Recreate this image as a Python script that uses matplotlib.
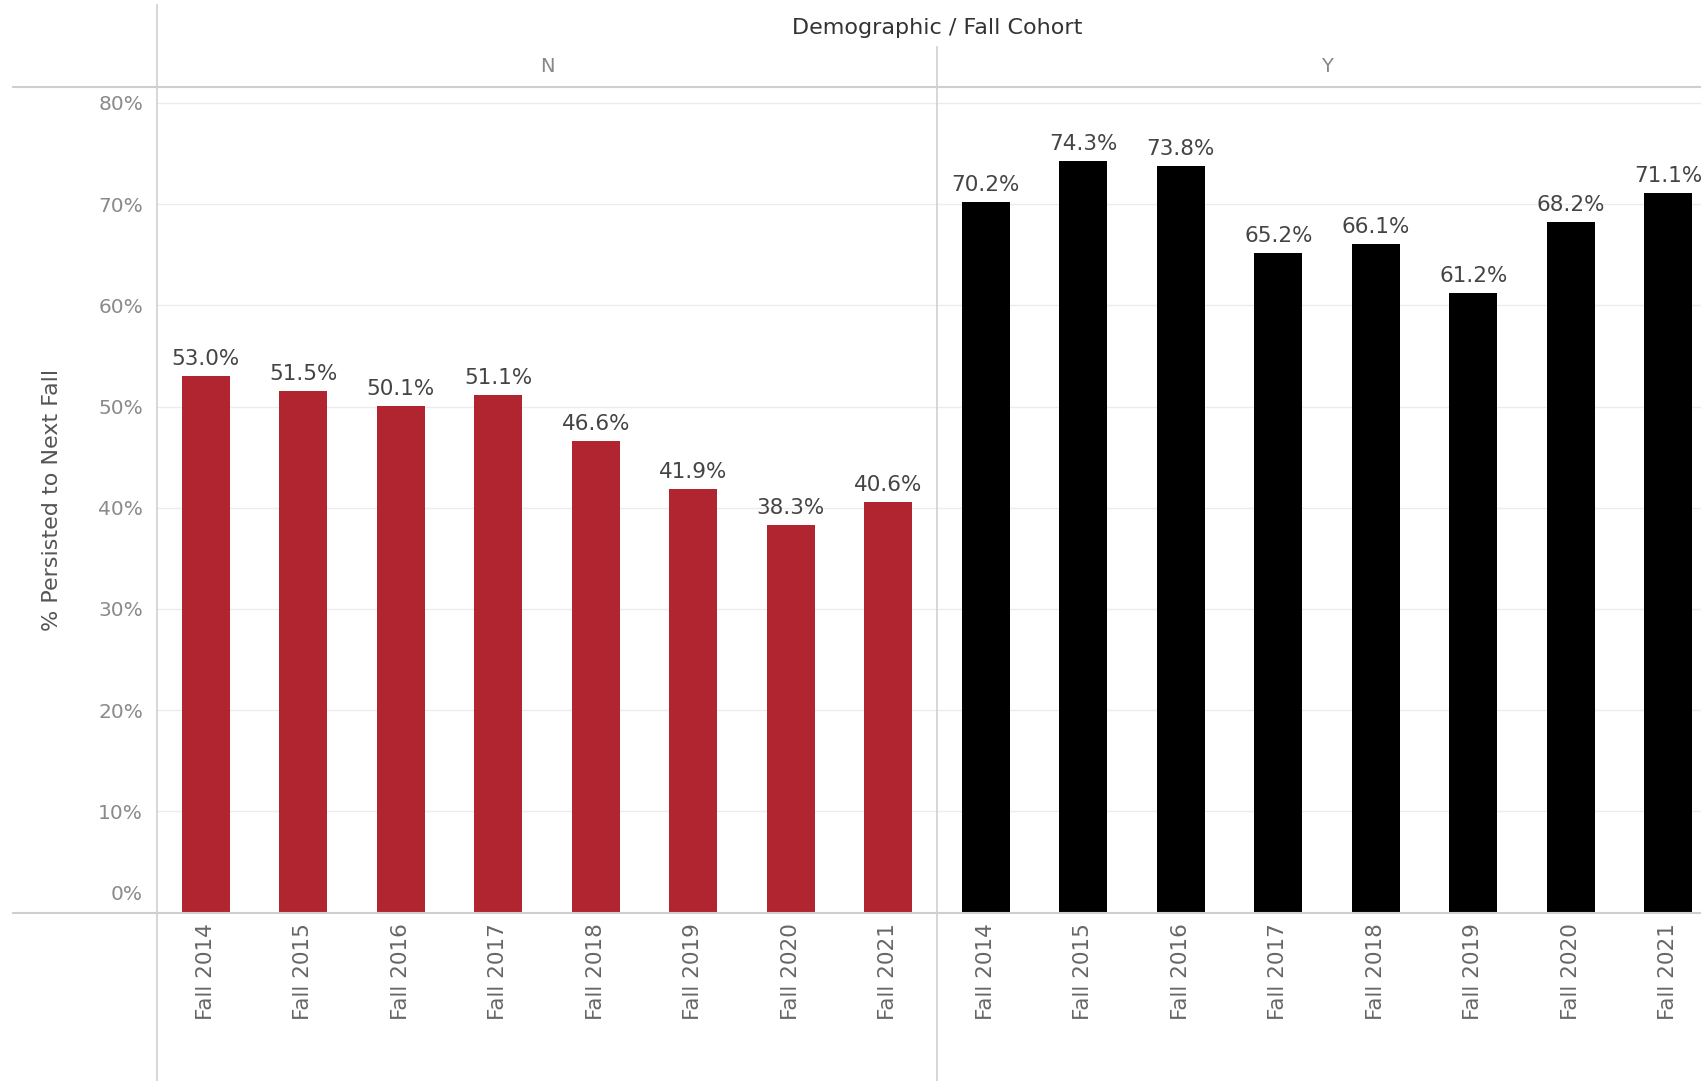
import matplotlib.pyplot as plt
from matplotlib.lines import Line2D
from matplotlib.transforms import ScaledTranslation

cohorts = ["Fall 2014", "Fall 2015", "Fall 2016", "Fall 2017",
           "Fall 2018", "Fall 2019", "Fall 2020", "Fall 2021"]
panels = ["N", "Y"]
rate_n = [53.0, 51.5, 50.1, 51.1, 46.6, 41.9, 38.3, 40.6]
rate_y = [70.2, 74.3, 73.8, 65.2, 66.1, 61.2, 68.2, 71.1]
yticks = [0, 10, 20, 30, 40, 50, 60, 70, 80]

plt.rcParams["font.family"] = ["DejaVu Sans"]

W, H = 1701, 1081
fig = plt.figure(figsize=(W / 100, H / 100), dpi=100)

left = 157 / W
panel_w = 780 / W
bottom = 1 - 912.5 / H
top = 1 - 86.8 / H
ymax = 81.6

colors = {"N": "#b0252f", "Y": "#000000"}
series = {"N": rate_n, "Y": rate_y}

for i, name in enumerate(panels):
    ax = fig.add_axes([left + i * panel_w, bottom, panel_w, top - bottom])
    vals = series[name]
    x = range(len(cohorts))
    ax.bar(x, vals, width=0.49, color=colors[name], zorder=3)
    for xi, v in zip(x, vals):
        ax.annotate(f"{v:.1f}%", (xi, v), xytext=(0, 5), textcoords="offset points",
                    ha="center", va="bottom", fontsize=15.5, color="#444444",
                    annotation_clip=False)
    ax.set_xlim(-0.5, len(cohorts) - 0.5)
    ax.set_ylim(0, ymax)
    ax.set_yticks(yticks)
    ax.grid(axis="y", color="#ececec", linewidth=1.0, zorder=0)
    for s in ax.spines.values():
        s.set_visible(False)
    ax.set_xticks(list(x))
    ax.set_xticklabels(cohorts, rotation=90, fontsize=15.5, color="#666666")
    ax.tick_params(axis="x", length=0, pad=8)
    ax.tick_params(axis="y", length=0)
    if i == 0:
        ax.set_yticklabels([f"{t}%" for t in yticks], fontsize=14.5, color="#8a8a8a")
        ax.tick_params(axis="y", pad=10)
        lbl0 = ax.get_yticklabels()[0]
        lbl0.set_va("bottom")
        lbl0.set_transform(lbl0.get_transform() + ScaledTranslation(0, 6 / 72, fig.dpi_scale_trans))
        ax.set_ylabel("% Persisted to Next Fall", fontsize=16, color="#555555", labelpad=26)
    else:
        ax.set_yticklabels([])
    fig.text(left + (i + 0.5) * panel_w, 1 - 67 / H, name, fontsize=14,
             color="#888888", ha="center", va="center")

fig.text(left + panel_w, 1 - 28 / H, "Demographic / Fall Cohort", fontsize=16,
         color="#333333", ha="center", va="center")

line_c = "#cfcfcf"
fig.add_artist(Line2D([13 / W, 1], [top, top], color=line_c, linewidth=1.5))
fig.add_artist(Line2D([13 / W, 1], [bottom, bottom], color=line_c, linewidth=1.5))
fig.add_artist(Line2D([left, left], [0, 1 - 5 / H], color=line_c, linewidth=1.2))
fig.add_artist(Line2D([left + panel_w, left + panel_w], [0, 1 - 47 / H], color=line_c, linewidth=1.2))

fig.savefig("out.png", dpi=100)
